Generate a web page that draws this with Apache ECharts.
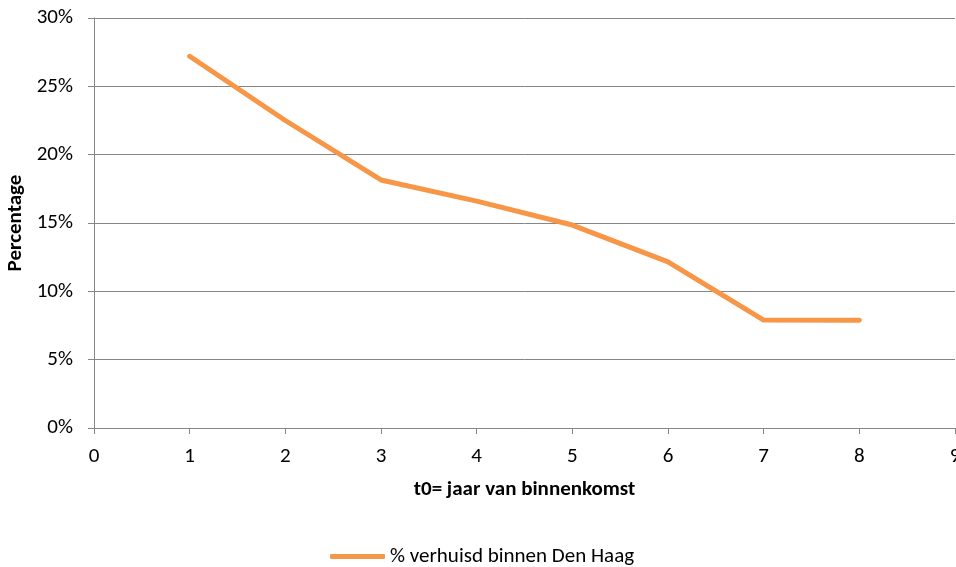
<!DOCTYPE html>
<html>
<head>
<meta charset="utf-8">
<script src="https://cdn.jsdelivr.net/npm/echarts@6/dist/echarts.min.js"></script>
<style>html,body{margin:0;padding:0;background:#fff}#c{width:956px;height:567px}</style>
</head>
<body>
<div id="c"></div>
<script>
const years = [1, 2, 3, 4, 5, 6, 7, 8];
const pctVerhuisd = [27.2, 22.5, 18.15, 16.6, 14.85, 12.15, 7.9, 7.88];
const seriesName = '% verhuisd binnen Den Haag';
const xTitle = 't0= jaar van binnenkomst';
const yTitle = 'Percentage';

const font = 'Carlito, Calibri, Lato, sans-serif';
const fs = 21;
const chart = echarts.init(document.getElementById('c'));
chart.setOption({
  animation: false,
  grid: { left: 94, right: 1, top: 18, bottom: 139, containLabel: false, outerBoundsMode: 'none' },
  legend: {
    top: 541, left: 325,
    itemWidth: 55, itemHeight: 5, itemGap: 4,
    icon: 'roundRect',
    textStyle: { fontFamily: font, fontSize: fs, color: '#000' },
    data: [seriesName]
  },
  xAxis: {
    type: 'value', min: 0, max: 9, interval: 1,
    name: xTitle, nameLocation: 'middle', nameGap: 51,
    nameTextStyle: { fontFamily: font, fontSize: fs, fontWeight: 'bold', color: '#000' },
    axisLine: { show: true, lineStyle: { color: '#868686', width: 1 } },
    axisTick: { show: true, length: 6, lineStyle: { color: '#868686' } },
    axisLabel: { margin: 18, fontFamily: font, fontSize: fs, color: '#000' },
    splitLine: { show: false }
  },
  yAxis: {
    type: 'value', min: 0, max: 30, interval: 5,
    name: yTitle, nameLocation: 'middle', nameGap: 56,
    nameTextStyle: { fontFamily: font, fontSize: fs, fontWeight: 'bold', color: '#000' },
    axisLine: { show: true, lineStyle: { color: '#868686', width: 1 } },
    axisTick: { show: true, length: 6, lineStyle: { color: '#868686' } },
    axisLabel: { margin: 21, fontFamily: font, fontSize: fs, color: '#000', formatter: v => v + '%' },
    splitLine: { show: true, lineStyle: { color: '#868686', width: 1 } }
  },
  series: [{
    name: seriesName, type: 'line',
    data: years.map((x, i) => [x, pctVerhuisd[i]]),
    symbol: 'none',
    lineStyle: { color: '#F79646', width: 5, cap: 'round', join: 'round' },
    itemStyle: { color: '#F79646' }
  }]
});
</script>
</body>
</html>
